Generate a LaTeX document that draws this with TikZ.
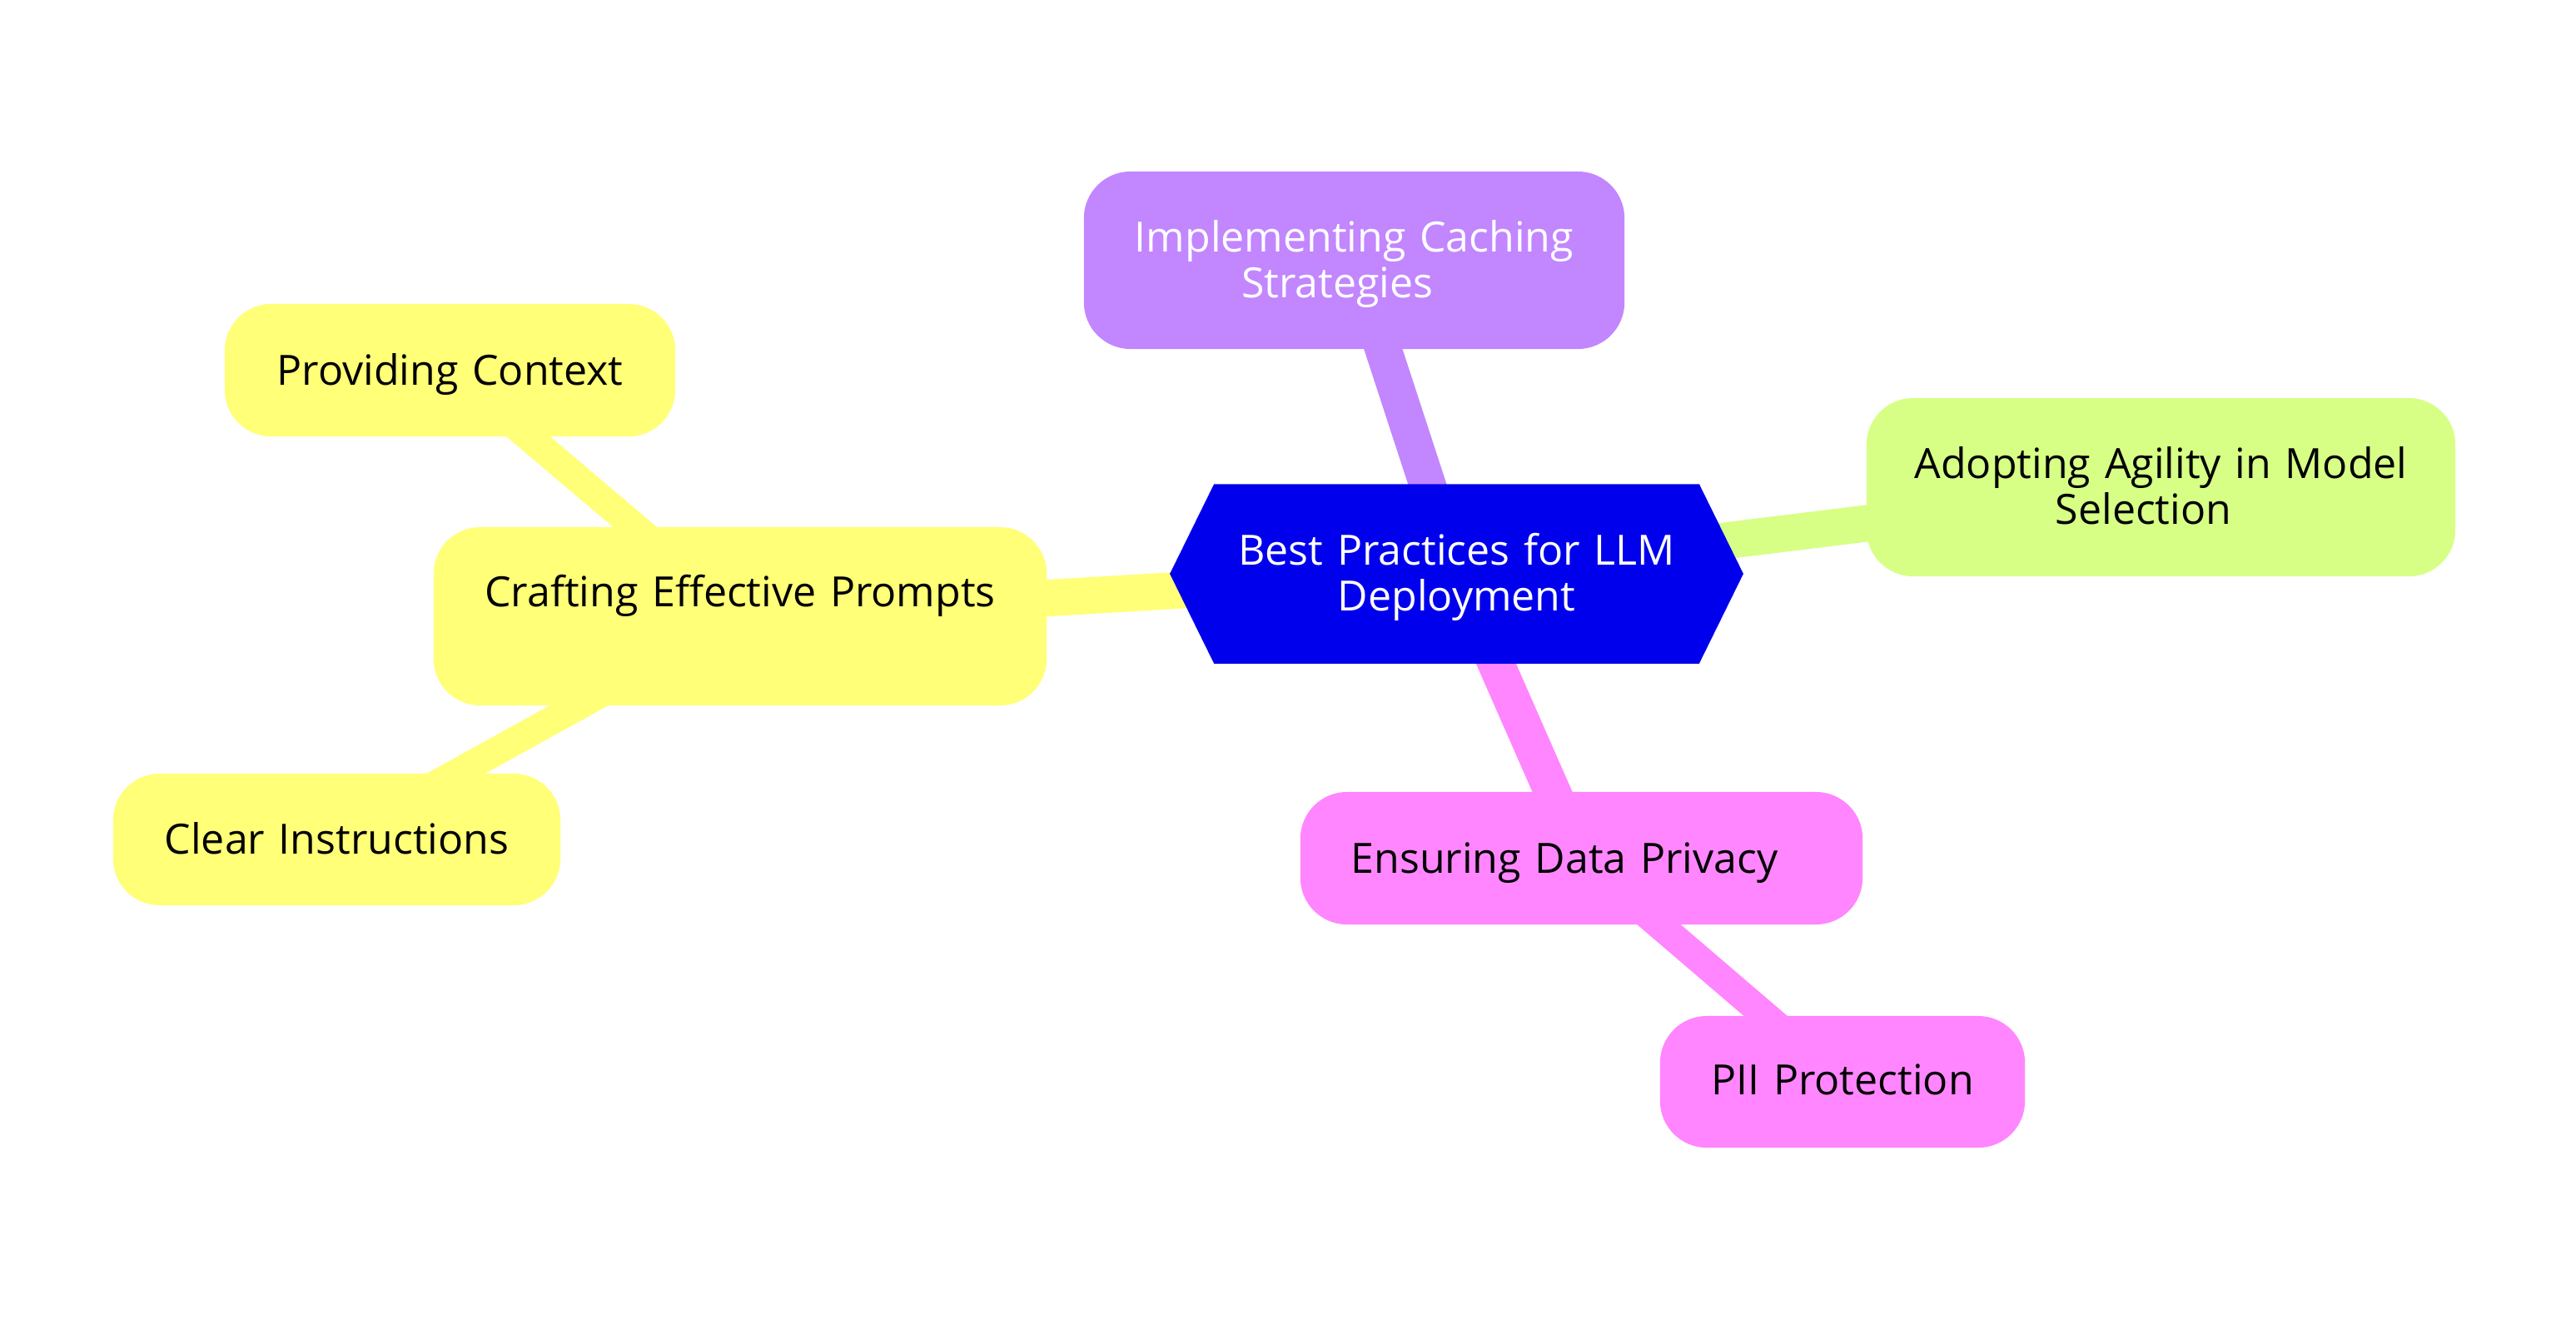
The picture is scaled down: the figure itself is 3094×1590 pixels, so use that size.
\documentclass[tikz,border=0pt]{standalone}
\usepackage{fontspec}
\setmainfont{Open Sans}
\usetikzlibrary{backgrounds}
\definecolor{rootblue}{RGB}{0,0,236}
\definecolor{secyellow}{RGB}{255,255,120}
\definecolor{secpurple}{RGB}{194,134,255}
\definecolor{secgreen}{RGB}{215,255,134}
\definecolor{secpink}{RGB}{255,134,255}
\begin{document}
\begin{tikzpicture}[x=0.01cm,y=-0.01cm,
  txt/.style={font=\fontsize{14.23pt}{15.65pt}\selectfont, align=center, inner sep=0pt},
  mbox/.style={txt, rounded corners=0.56cm},
  oneline/.style={text height=0.36cm, text depth=0.01cm},
  rootedge/.style={line width=0.44cm},
  subedge/.style={line width=0.34cm}]
\useasboundingbox (0,0) rectangle (3094,1590);

\node[txt, text=white, minimum width=5.81cm, minimum height=2.14cm, text width=5.6cm,
      text height=0.36cm, text depth=0.58cm] (root) at (1749.5,689)
      {Best Practices for LLM\\Deployment};

\node[mbox, fill=secyellow, minimum width=7.36cm, minimum height=2.14cm, text width=7cm,
      text height=0.36cm, text depth=0.60cm] (crafting) at (889,740)
      {Crafting Effective Prompts};
\node[mbox, fill=secyellow, oneline, minimum width=5.41cm, minimum height=1.59cm,
      text width=5.2cm] (context) at (540.5,444.5) {Providing Context};
\node[mbox, fill=secyellow, oneline, minimum width=5.37cm, minimum height=1.58cm,
      text width=5.2cm] (clear) at (404.5,1008) {Clear Instructions};

\node[mbox, fill=secpurple, text=white, minimum width=6.49cm, minimum height=2.13cm,
      text width=6.3cm, text height=0.36cm, text depth=0.57cm] (caching) at (1626.5,312.5)
      {Implementing Caching\\Strategies\rule{0.4cm}{0pt}};

\node[mbox, fill=secgreen, minimum width=7.07cm, minimum height=2.14cm, text width=6.8cm,
      text height=0.36cm, text depth=0.58cm] (agility) at (2595.5,585)
      {Adopting Agility in Model\\Selection\rule{0.42cm}{0pt}};

\node[mbox, fill=secpink, oneline, minimum width=6.75cm, minimum height=1.59cm,
      text width=6.5cm] (privacy) at (1899.5,1030.5) {Ensuring Data Privacy\rule{0.41cm}{0pt}};
\node[mbox, fill=secpink, text height=0.36cm, text depth=0.06cm, minimum width=4.38cm,
      minimum height=1.58cm, text width=4.2cm] (pii) at (2213,1299) {PII Protection};

\begin{pgfonlayer}{background}
  \fill[white] (0,0) rectangle (3094,1590);
  \draw[rootedge, secyellow] (root.center) -- (crafting.center);
  \draw[rootedge, secpurple] (root.center) -- (caching.center);
  \draw[rootedge, secgreen] (root.center) -- (agility.center);
  \draw[rootedge, secpink] (root.center) -- (privacy.center);
  \draw[subedge, secyellow] (crafting.center) -- (context.center);
  \draw[subedge, secyellow] (crafting.center) -- (clear.center);
  \draw[subedge, secpink] (privacy.center) -- (pii.center);
  \fill[rootblue] ([xshift=-0.53cm]root.west) -- (root.north west) -- (root.north east)
    -- ([xshift=0.53cm]root.east) -- (root.south east) -- (root.south west) -- cycle;
\end{pgfonlayer}
\end{tikzpicture}
\end{document}
